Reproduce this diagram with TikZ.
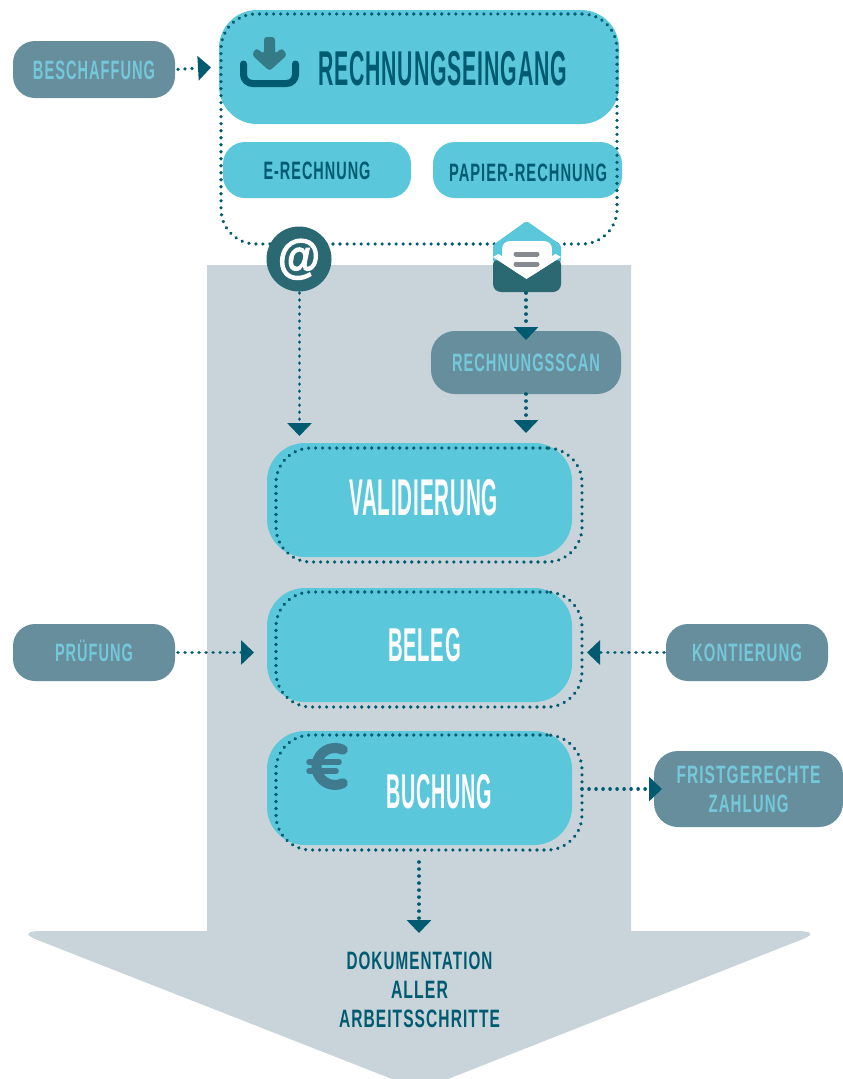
\documentclass[tikz,border=0pt]{standalone}
\usepackage{graphicx}
\usepackage{fontspec}
\setmainfont{Liberation Sans}
\newfontfamily\atfont{Liberation Sans Bold}[FakeBold=2.5]
\usetikzlibrary{arrows.meta}
\definecolor{cy}{HTML}{5AC7DA}
\definecolor{dk}{HTML}{005A70}
\definecolor{tl}{HTML}{2A6872}
\definecolor{gb}{HTML}{678E9C}
\definecolor{lt}{HTML}{74C8DA}
\definecolor{bg}{HTML}{C8D4DA}
\definecolor{eu}{HTML}{3F7A8F}
\definecolor{gl}{HTML}{868A90}
\newsavebox\fitbox
\newcommand\fit[3]{\sbox\fitbox{#3}\ht\fitbox=0.716em\dp\fitbox=0pt\resizebox{#1pt}{#2pt}{\usebox\fitbox}}
\tikzset{
  rbox/.style={inner sep=0pt,outer sep=0pt,rounded corners=#1},
  cybox/.style={rbox=#1,fill=cy},
  spaced/.style={font=\bfseries\addfontfeatures{LetterSpace=7}\fontsize{26}{28.5}\selectfont,align=center},
  gbox/.style={rbox=#1,fill=gb,text=lt,spaced},
  dotbox/.style={rbox=#1,draw=dk,line width=3.6pt,line cap=round,dash pattern=on 0.01pt off 7pt},
  lab/.style={inner sep=0pt,outer sep=0pt,font=\bfseries\addfontfeatures{LetterSpace=4}\fontsize{26}{29}\selectfont,align=center},
  slab/.style={inner sep=0pt,outer sep=0pt,font=\bfseries\addfontfeatures{LetterSpace=7}\fontsize{26}{29}\selectfont,align=center},
  conn/.style={dk,line width=3.6pt,line cap=round,dash pattern=on 0.01pt off 7pt,-{Triangle[length=13pt,width=24pt,fill=dk,line cap=butt,sep=0pt]}},
}
\begin{document}
\begin{tikzpicture}[x=1pt,y=-1pt]
\useasboundingbox (0,0) rectangle (843,1079);
\fill[white] (0,0) rectangle (843,1079);
% large background arrow
\fill[bg] (207,265) -- (631,265) -- (631,931) -- (796,931)
  .. controls (812,931) and (815,934) .. (803,939) -- (448,1079) -- (392,1079) -- (35,939)
  .. controls (24,934) and (27,931) .. (42,931) -- (207,931) -- cycle;
% top group
\node[cybox=38pt,minimum width=400pt,minimum height=114pt] (main) at (419,67) {};
\node[cybox=22pt,minimum width=188pt,minimum height=56pt,text=dk,spaced] (erech) at (317,170) {\fit{107}{18}{E-RECHNUNG}};
\node[cybox=22pt,minimum width=189pt,minimum height=56pt] (papier) at (527.5,170) {};
\node[slab,text=dk] (papierlab) at (528,172) {\fit{158}{18}{PAPIER-RECHNUNG}};
\node[lab,text=dk] (mainlab) at (442.5,68) {\fit{249}{35}{RECHNUNGSEINGANG}};
\node[dotbox=35pt,minimum width=396pt,minimum height=230pt] (group) at (419,129) {};
% download icon
\draw[dk,line width=7pt,line cap=round,line join=round,rounded corners=9pt] (243.5,64) -- (243.5,83.5) -- (295.5,83.5) -- (295.5,64);
\fill[tl!80!cy,rounded corners=3pt] (252,55) -- (256,48) -- (264,54) -- (264,37) -- (275,37) -- (275,54) -- (282,48) -- (287,55) -- (269.5,71) -- cycle;
% side boxes
\node[gbox=22pt,minimum width=162pt,minimum height=57pt] (besch) at (94,69.5) {\fit{122}{19}{BESCHAFFUNG}};
\node[gbox=24pt,minimum width=190pt,minimum height=63pt] (scan) at (526,362.5) {\fit{148}{18}{RECHNUNGSSCAN}};
\node[gbox=22pt,minimum width=162pt,minimum height=57pt] (pruef) at (94,652.5) {\fit{78}{18}{PRÜFUNG}};
\node[gbox=22pt,minimum width=162pt,minimum height=57pt] (kont) at (747,652.5) {\fit{110}{18}{KONTIERUNG}};
\node[gbox=24pt,minimum width=189pt,minimum height=76pt] (frist) at (748.5,789) {\fit{144}{18}{FRISTGERECHTE}\\\fit{80}{18}{ZAHLUNG}};
% process boxes
\node[cybox=38pt,minimum width=305pt,minimum height=114pt] (val) at (419.5,500) {};
\node[cybox=38pt,minimum width=305pt,minimum height=114pt] (beleg) at (419.5,645) {};
\node[cybox=38pt,minimum width=305pt,minimum height=114pt] (buch) at (419.5,788) {};
\node[dotbox=35pt,minimum width=306pt,minimum height=114pt] (vald) at (429,505) {};
\node[dotbox=35pt,minimum width=306pt,minimum height=115pt] (beld) at (429,649.5) {};
\node[dotbox=35pt,minimum width=306pt,minimum height=115pt] (buchd) at (429,792.5) {};
\node[lab,text=white] (vallab) at (423.5,496.5) {\fit{149}{37}{VALIDIERUNG}};
\node[lab,text=white] (bellab) at (424.5,644) {\fit{73}{34}{BELEG}};
\node[lab,text=white] (buchlab) at (439,790.5) {\fit{106}{35}{BUCHUNG}};
% euro icon
\draw[eu,line width=10pt,line cap=round] (342.8,749.7) arc[start angle=65,end angle=295,radius=18.5pt];
\draw[eu,line width=5.5pt,line cap=round] (309,762) -- (339,762) (309,771) -- (336,771);
% at icon
\node[circle,fill=tl,minimum size=65pt,inner sep=0pt,outer sep=0pt] (at) at (299,259) {};
\node[inner sep=0pt,text=white,font=\atfont] (atlab) at (299,255.5) {\fit{42}{33.5}{@}};
% envelope icon
\fill[cy,rounded corners=2pt] (526.5,221) -- (561,245) -- (561,262) -- (493,262) -- (493,245) -- cycle;
\fill[white,rounded corners=8pt] (502,241) -- (552,241) -- (552,285) -- (502,285) -- cycle;
\fill[tl,rounded corners=8pt] (493,257) -- (526.5,279) -- (561,257) -- (561,292) -- (493,292) -- cycle;
\fill[white] (493,257) -- (526.5,279) -- (561,257) -- (552,252) -- (502,252) -- cycle;
\fill[cy] (493,250) -- (502,256) -- (502,245) -- (496,245) -- cycle;
\fill[cy] (561,250) -- (552,256) -- (552,245) -- (558,245) -- cycle;
\draw[gl,line width=5pt,line cap=round] (516,254) -- (537,254) (516,264) -- (537,264);
\coordinate (env) at (526,293);
% bottom text
\node[slab,text=dk] (doku) at (419.5,989) {\fit{146}{18}{DOKUMENTATION}\\\fit{57}{18}{ALLER}\\\fit{161}{18}{ARBEITSSCHRITTE}};
% connectors
\coordinate (a1) at (299.5,436);
\coordinate (a2) at (526,340);
\coordinate (a3) at (526,433);
\coordinate (a4) at (299.5,293);
\coordinate (a5) at (419,862);
\coordinate (a6) at (419,933);
\draw[conn,shorten <=3pt,shorten >=8pt] (besch.east) -- (main.west);
\draw[conn] (a4) -- (a1);
\draw[conn] (env) -- (a2);
\draw[conn] (scan.south -| a3) -- (a3);
\draw[conn,shorten <=3pt,shorten >=13pt] (pruef.east) -- (beleg.west |- pruef.east);
\draw[conn,shorten <=2pt,shorten >=15pt] (kont.west) -- (beleg.east |- kont.west);
\draw[conn,shorten >=-8pt] (buchd.east |- frist.west) -- (frist.west);
\draw[conn] (a5) -- (a6);
\end{tikzpicture}
\end{document}
